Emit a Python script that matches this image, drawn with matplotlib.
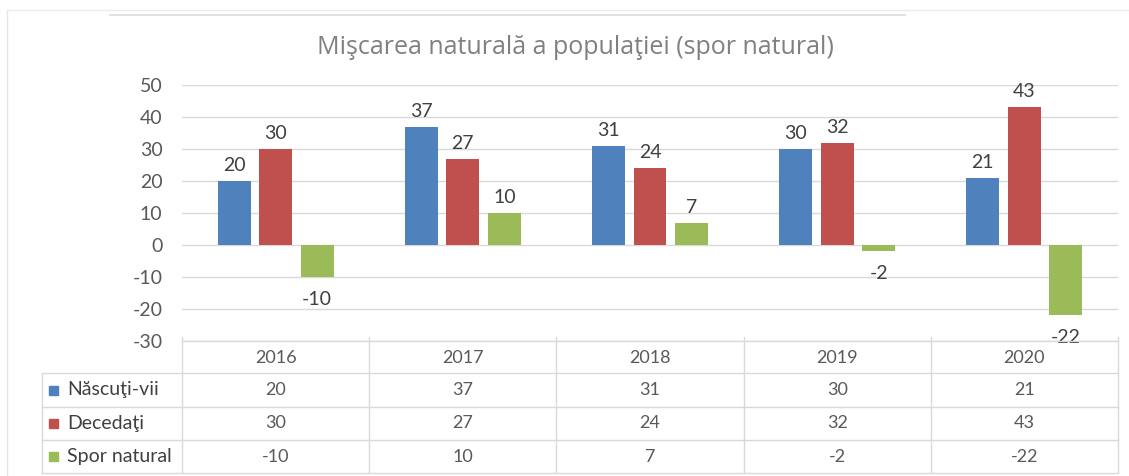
import matplotlib
matplotlib.use("Agg")
import matplotlib.pyplot as plt
from matplotlib.patches import Rectangle
from matplotlib.lines import Line2D

years = ["2016", "2017", "2018", "2019", "2020"]
series_names = ["Născuţi-vii", "Decedaţi", "Spor natural"]
nascuti = [20, 37, 31, 30, 21]
decedati = [30, 27, 24, 32, 43]
spor = [-10, 10, 7, -2, -22]
colors = ["#4F81BD", "#C0504D", "#9BBB59"]
title = "Mişcarea naturală a populaţiei (spor natural)"
yticks = [-30, -20, -10, 0, 10, 20, 30, 40, 50]

FONT = ["Lato", "DejaVu Sans"]
plt.rcParams["font.family"] = FONT

W, H = 1129, 476
fig = plt.figure(figsize=(W / 100, H / 100), dpi=100)

def fx(px):
    return px / W

def fy(py):
    return 1 - py / H

# plot area
x0, x1 = 182, 1118
ytop, ybot = 85, 341
ax = fig.add_axes([fx(x0), fy(ybot), fx(x1 - x0), (ybot - ytop) / H])
ax.set_xlim(-0.5, len(years) - 0.5)
ax.set_ylim(-30, 50)
ax.set_yticks(yticks)
ax.set_yticklabels([str(v) for v in yticks])
ax.tick_params(axis="y", length=0, pad=14, labelsize=14, labelcolor="#595959")
ax.set_xticks([])
for s in ax.spines.values():
    s.set_visible(False)
ax.grid(axis="y", color="#D9D9D9", linewidth=1)
ax.set_axisbelow(True)

series = [nascuti, decedati, spor]
width = 0.176
offsets = [-0.222, 0.0, 0.222]
for vals, off, c in zip(series, offsets, colors):
    xs = [i + off for i in range(len(years))]
    ax.bar(xs, vals, width=width, color=c, zorder=3)
    for x, v in zip(xs, vals):
        if v >= 0:
            ax.annotate(str(v), (x, v), xytext=(0, 5), textcoords="offset points",
                        ha="center", va="bottom", fontsize=14, color="#404040")
        else:
            ax.annotate(str(v), (x, v), xytext=(0, -10), textcoords="offset points",
                        ha="center", va="top", fontsize=14, color="#404040",
                        annotation_clip=False)

# title
fig.text(fx(575), fy(47), title, ha="center", va="center", fontsize=18,
         color="#808080", family=["Open Sans", "DejaVu Sans"])

# data table
tab_left = 42
col_w = (x1 - x0) / len(years)
row_y = [341, 373, 407, 440, 473]
lc = "#D9D9D9"

def hline(y, xa, xb):
    fig.add_artist(Line2D([fx(xa), fx(xb)], [fy(y), fy(y)], color=lc, lw=1))

def vline(x, ya, yb):
    fig.add_artist(Line2D([fx(x), fx(x)], [fy(ya), fy(yb)], color=lc, lw=1))

hline(row_y[0], x0, x1)
for y in row_y[1:]:
    hline(y, tab_left, x1)
vline(tab_left, row_y[1], row_y[4])
for i in range(len(years) + 1):
    vline(x0 + i * col_w, row_y[0] - 4, row_y[4])

for i, yr in enumerate(years):
    cx = x0 + (i + 0.5) * col_w
    fig.text(fx(cx), fy((row_y[0] + row_y[1]) / 2 + 1), yr, ha="center", va="center",
             fontsize=13, color="#595959")
    for r, vals in enumerate(series):
        fig.text(fx(cx), fy((row_y[r + 1] + row_y[r + 2]) / 2), str(vals[i]),
                 ha="center", va="center", fontsize=13, color="#595959")

for r, (name, c) in enumerate(zip(series_names, colors)):
    cy = (row_y[r + 1] + row_y[r + 2]) / 2
    fig.add_artist(Rectangle((fx(49), fy(cy + 4.5)), 9 / W, 9 / H, color=c,
                             transform=fig.transFigure))
    fig.text(fx(67), fy(cy), name, ha="left", va="center", fontsize=14, color="#404040")

# outer frame (faint)
fig.add_artist(Line2D([fx(7), fx(7)], [fy(10), fy(476)], color="#E6E6E6", lw=1))
fig.add_artist(Line2D([fx(7), fx(1129)], [fy(10), fy(10)], color="#ECECEC", lw=1))
fig.add_artist(Line2D([fx(110), fx(905)], [fy(15), fy(15)], color="#E3E3E3", lw=1.5))

fig.savefig("out.png", dpi=100)
